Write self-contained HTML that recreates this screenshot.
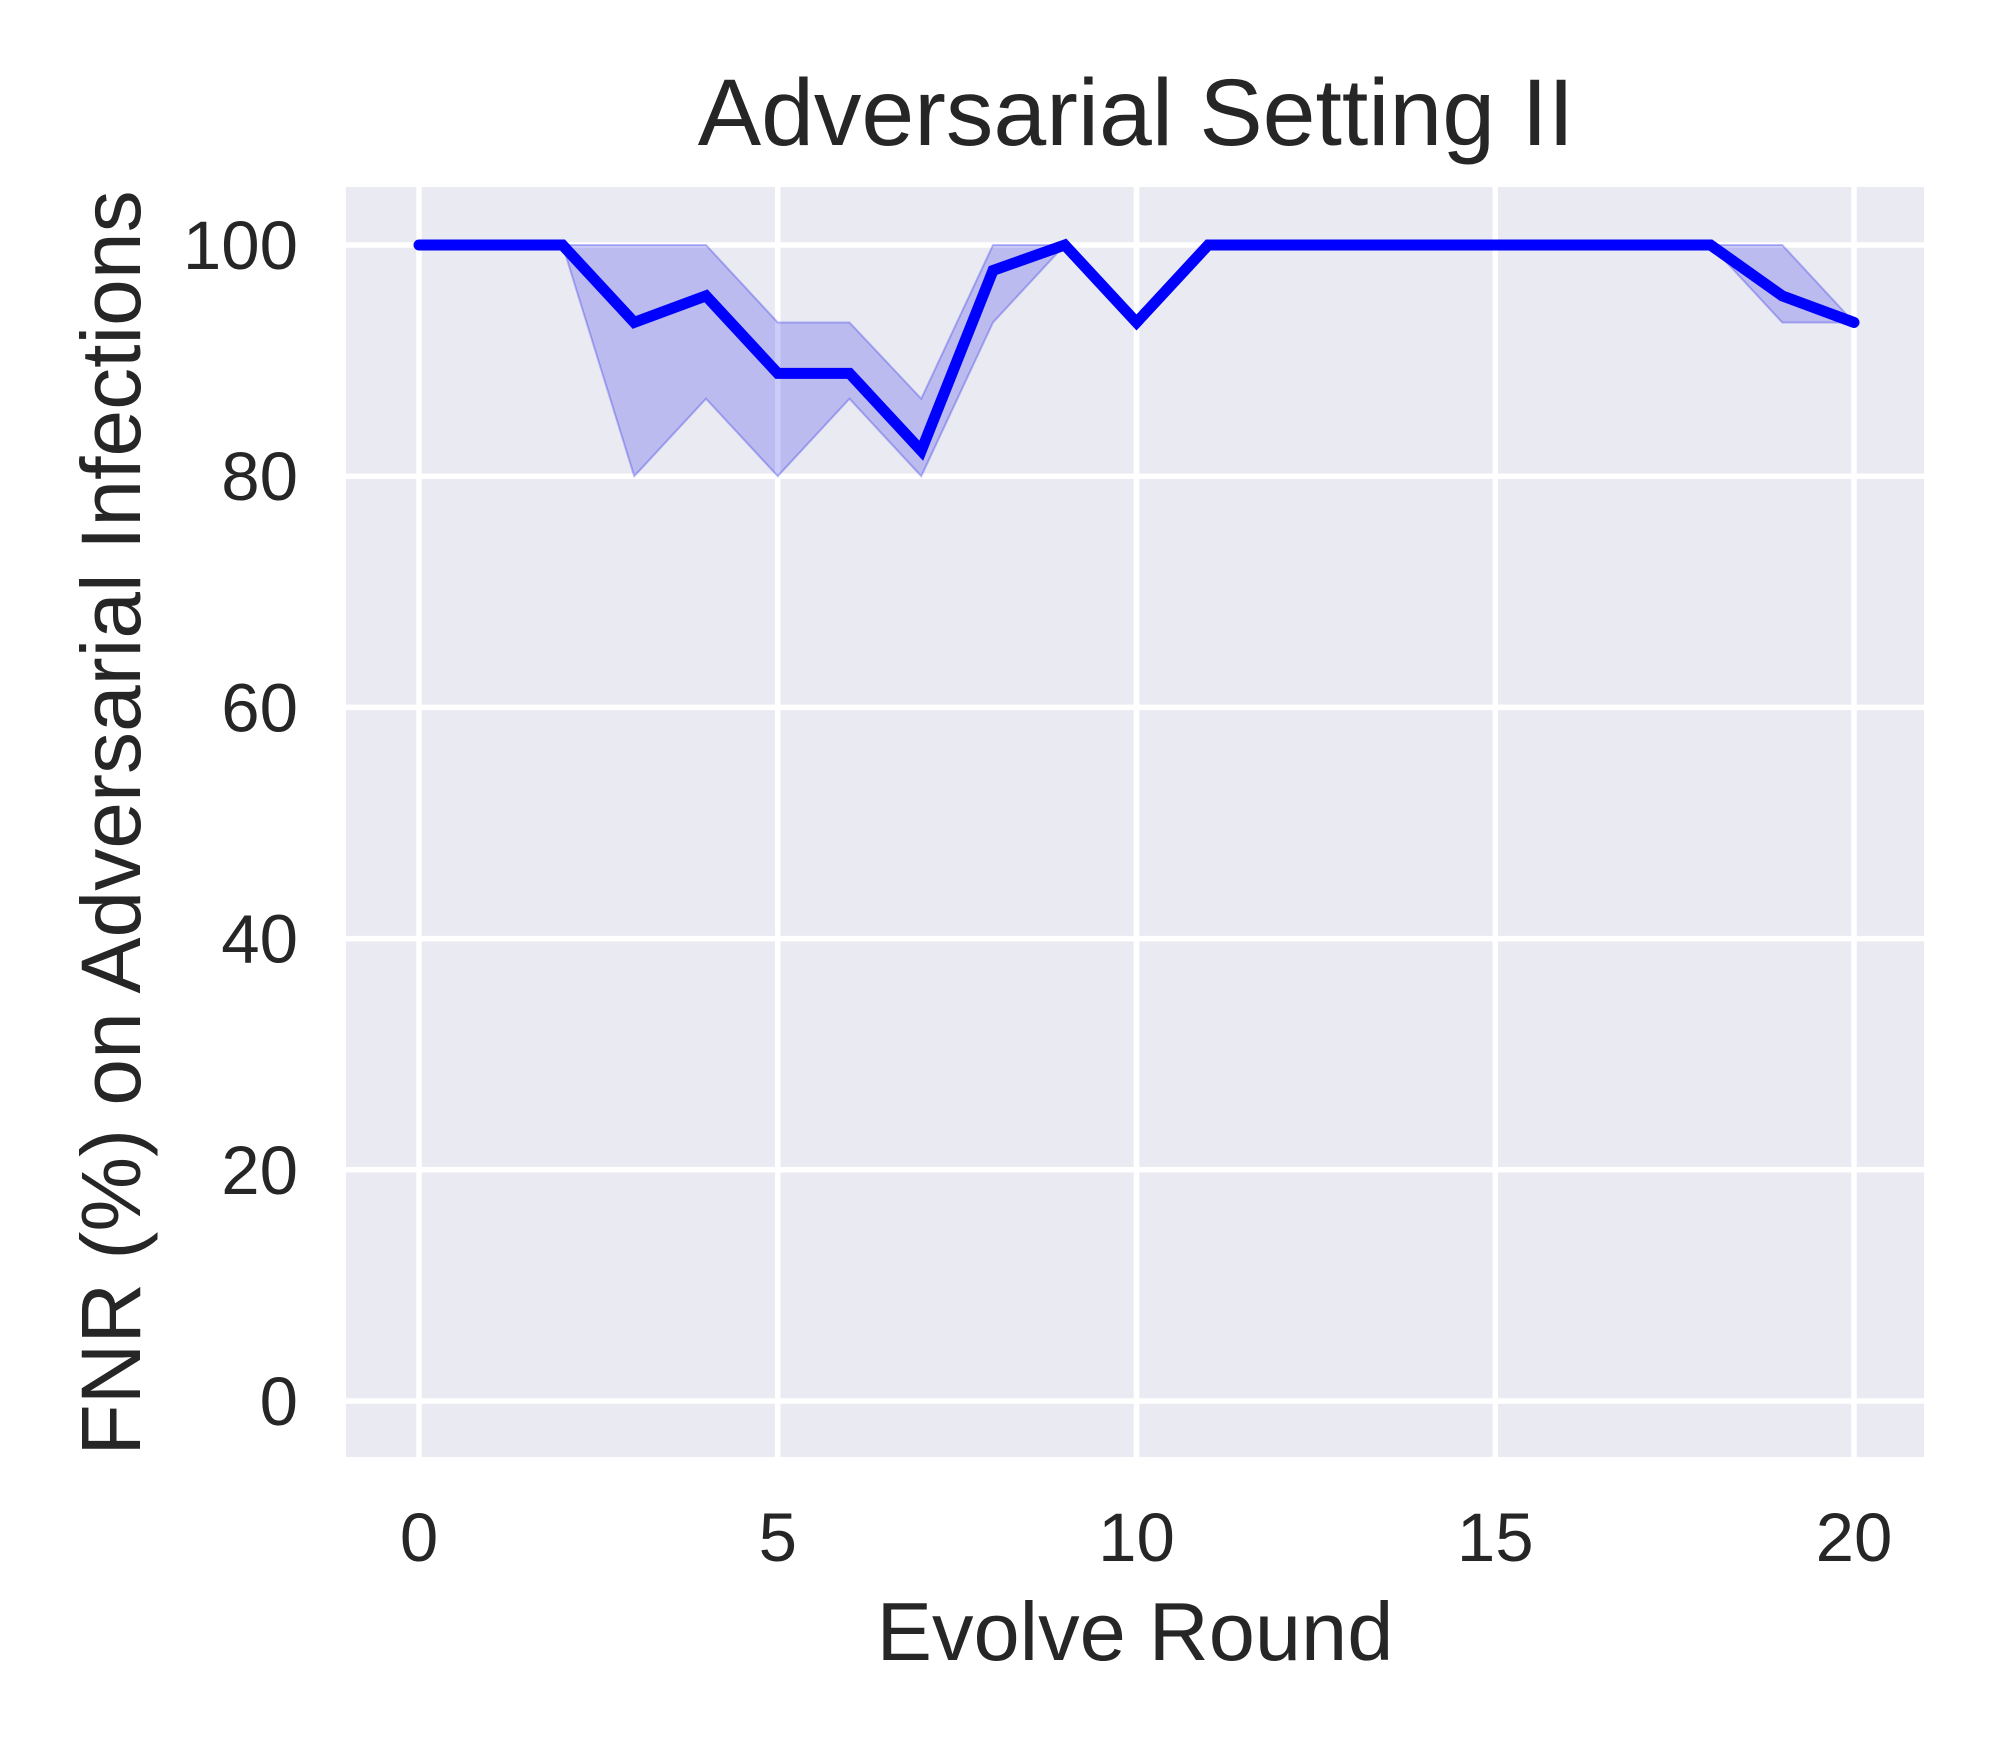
<!DOCTYPE html>
<html><head><meta charset="utf-8"><style>
html,body{margin:0;padding:0;background:#fff;}
svg{display:block;font-family:"Liberation Sans",sans-serif;}
</style></head><body>
<svg id="chart" width="2000" height="1750" viewBox="0 0 2000 1750">
<rect x="346" y="187" width="1578" height="1270" fill="#eaeaf2"/>
<g id="grid"></g>
<g id="series"></g>
<g id="ticks" fill="#262626" font-size="69"></g>
<text x="1136" y="145" font-size="95" fill="#262626" text-anchor="middle">Adversarial Setting II</text>
<text x="1135" y="1660" font-size="83" fill="#262626" text-anchor="middle">Evolve Round</text>
<text transform="translate(140,823) rotate(-90)" font-size="84" fill="#262626" text-anchor="middle">FNR (%) on Adversarial Infections</text>
</svg>
<script>
const rounds = [0,1,2,3,4,5,6,7,8,9,10,11,12,13,14,15,16,17,18,19,20];
const meanFNR = [100,100,100,93.3,95.6,88.9,88.9,82.2,97.8,100,93.3,100,100,100,100,100,100,100,100,95.6,93.3];
const upperFNR = [100,100,100,100,100,93.3,93.3,86.7,100,100,93.3,100,100,100,100,100,100,100,100,100,93.3];
const lowerFNR = [100,100,100,80,86.7,80,86.7,80,93.3,100,93.3,100,100,100,100,100,100,100,100,93.3,93.3];
const xTicks = [0,5,10,15,20];
const yTicks = [0,20,40,60,80,100];

const NS='http://www.w3.org/2000/svg';
const xs = v => 419 + (v-0)*(1854-419)/20;
const ys = v => 1401 - v*(1401-245)/100;
const grid=document.getElementById('grid'), ser=document.getElementById('series'), tk=document.getElementById('ticks');

xTicks.forEach(t=>{
  const l=document.createElementNS(NS,'line');
  l.setAttribute('x1',xs(t));l.setAttribute('x2',xs(t));l.setAttribute('y1',187);l.setAttribute('y2',1457);
  l.setAttribute('stroke','#fff');l.setAttribute('stroke-width','5.5');
  
  
  grid.appendChild(l);
  const tx=document.createElementNS(NS,'text');
  tx.setAttribute('x',xs(t));tx.setAttribute('y',1561);tx.setAttribute('text-anchor','middle');
  tx.textContent=t;
  
  
  tk.appendChild(tx);
});
yTicks.forEach(t=>{
  const l=document.createElementNS(NS,'line');
  l.setAttribute('y1',ys(t));l.setAttribute('y2',ys(t));l.setAttribute('x1',346);l.setAttribute('x2',1924);
  l.setAttribute('stroke','#fff');l.setAttribute('stroke-width','5.5');
  
  
  grid.appendChild(l);
  const tx=document.createElementNS(NS,'text');
  tx.setAttribute('x',298);tx.setAttribute('y',ys(t)+24);tx.setAttribute('text-anchor','end');
  tx.textContent=t;
  
  
  tk.appendChild(tx);
});
let d='';
rounds.forEach((r,i)=>{d+=(i?'L':'M')+xs(r)+','+ys(upperFNR[i]);});
for(let i=rounds.length-1;i>=0;i--){d+='L'+xs(rounds[i])+','+ys(lowerFNR[i]);}
d+='Z';
const band=document.createElementNS(NS,'path');
band.setAttribute('d',d);band.setAttribute('fill','rgba(0,0,230,0.2)');band.setAttribute('stroke','rgba(0,0,230,0.25)');band.setAttribute('stroke-width','2');


ser.appendChild(band);
const line=document.createElementNS(NS,'polyline');
line.setAttribute('points',rounds.map((r,i)=>xs(r)+','+ys(meanFNR[i])).join(' '));
line.setAttribute('fill','none');line.setAttribute('stroke','#0000ff');line.setAttribute('stroke-width','11');line.setAttribute('stroke-linejoin','miter');line.setAttribute('stroke-linecap','round');


ser.appendChild(line);
</script>
</body></html>
